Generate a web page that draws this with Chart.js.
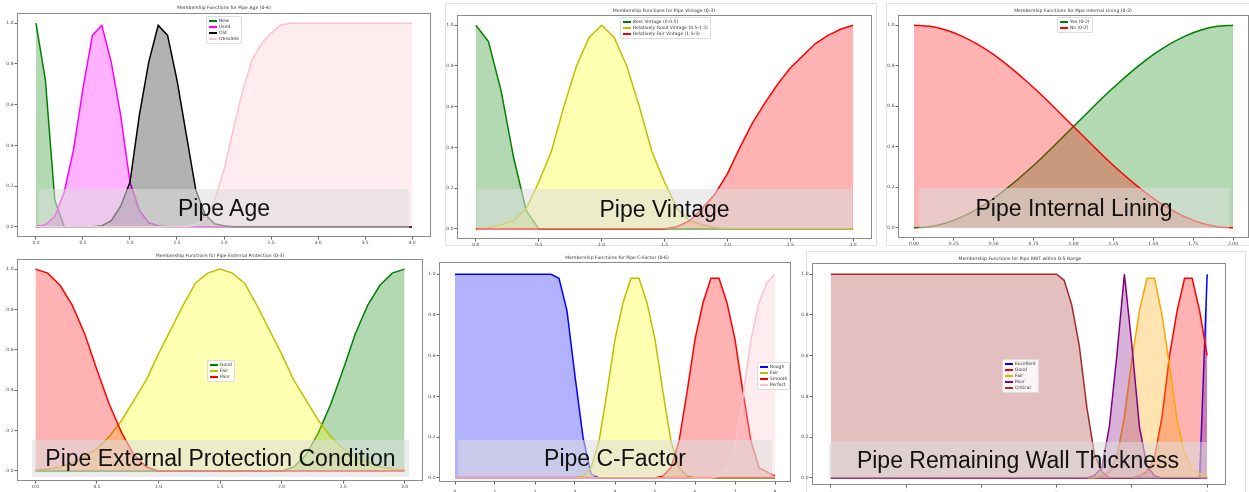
<!DOCTYPE html>
<html>
<head>
<meta charset="utf-8">
<script src="https://cdn.jsdelivr.net/npm/chart.js@4.4.0/dist/chart.umd.min.js"></script>
<style>
body { margin: 0; width: 1249px; height: 492px; overflow: hidden; background: #fff; position: relative; font-family: "DejaVu Sans", sans-serif; }
.t { position: absolute; font-size: 4.6px; line-height: 6px; color: #333; transform: translateX(-50%); white-space: nowrap; }
.lg { position: absolute; background: rgba(255,255,255,0.85); border: 1px solid #ddd; border-radius: 1px; padding: 1px 2px; font-size: 4.5px; line-height: 6px; color: #333; white-space: nowrap; }
.lg i { display: inline-block; width: 8px; height: 1.5px; vertical-align: middle; margin-right: 2px; }
.ov { position: absolute; background: rgba(220,220,220,0.55); display: flex; align-items: center; justify-content: center; font: 23px "Liberation Sans", Arial, sans-serif; color: #111; white-space: nowrap; }
.fr { position: absolute; border: 1px solid #e2e2e2; box-sizing: border-box; }
</style>
</head>
<body>
<div class="fr" style="left:445px;top:3px;width:432px;height:243px"></div>
<div class="fr" style="left:886px;top:3px;width:370px;height:243px"></div>
<div class="fr" style="left:806px;top:251px;width:440px;height:250px"></div>
<script>
// tick labels
const yTicks = [0, 0.2, 0.4, 0.6, 0.8, 1.0];
const ageTicks = [0, 0.5, 1, 1.5, 2, 2.5, 3, 3.5, 4];
const vintTicks = [0, 0.5, 1, 1.5, 2, 2.5, 3];
const lineTicks = [0, 0.25, 0.5, 0.75, 1, 1.25, 1.5, 1.75, 2];
const extTicks = [0, 0.5, 1, 1.5, 2, 2.5, 3];
const cfTicks = [0, 1, 2, 3, 4, 5, 6, 7, 8];
const rwtTicks = [0, 1, 2, 3, 4, 5];

// Pipe Age
const ageX = [0,0.1,0.2,0.3,0.4,0.5,0.6,0.7,0.8,0.9,1,1.1,1.2,1.3,1.4,1.5,1.6,1.7,1.8,1.9,2,2.1,2.2,2.3,2.4,2.5,2.6,2.7,2.8,2.9,3,3.1,3.2,3.3,3.4,3.5,3.6,3.7,3.8,3.9,4];
const ageNew = [1,0.72,0.13,0,0,0,0,0,0,0, 0,0,0,0,0,0,0,0,0,0, 0,0,0,0,0,0,0,0,0,0, 0,0,0,0,0,0,0,0,0,0, 0];
const ageUsed = [0,0.01,0.05,0.17,0.38,0.68,0.94,0.99,0.81,0.55, 0.22,0.08,0.02,0.005,0,0,0,0,0,0, 0,0,0,0,0,0,0,0,0,0, 0,0,0,0,0,0,0,0,0,0, 0];
const ageOld = [0,0,0,0,0,0,0,0.005,0.03,0.1, 0.22,0.55,0.81,0.99,0.94,0.72,0.45,0.18,0.06,0.015, 0.005,0,0,0,0,0,0,0,0,0, 0,0,0,0,0,0,0,0,0,0, 0];
const ageObsolete = [0,0,0,0,0,0,0,0,0,0, 0,0,0,0,0,0,0,0.01,0.04,0.13, 0.28,0.48,0.67,0.82,0.9,0.95,0.99,1,1,1, 1,1,1,1,1,1,1,1,1,1, 1];

// Pipe Vintage
const vintX = [0,0.1,0.2,0.3,0.4,0.5,0.6,0.7,0.8,0.9,1,1.1,1.2,1.3,1.4,1.5,1.6,1.7,1.8,1.9,2,2.1,2.2,2.3,2.4,2.5,2.6,2.7,2.8,2.9,3];
const vintBest = [1,0.92,0.68,0.35,0.09,0,0,0,0,0, 0,0,0,0,0,0,0,0,0,0, 0,0,0,0,0,0,0,0,0,0, 0];
const vintGood = [0,0.005,0.02,0.04,0.1,0.23,0.38,0.6,0.8,0.94, 1,0.94,0.8,0.6,0.38,0.23,0.1,0.04,0.02,0.005, 0,0,0,0,0,0,0,0,0,0, 0];
const vintFair = [0,0,0,0,0,0,0,0,0,0, 0,0,0,0,0,0,0.01,0.04,0.1,0.17, 0.27,0.4,0.52,0.62,0.71,0.79,0.85,0.91,0.95,0.98, 1];

// Pipe Internal Lining
const lineX = [0,0.1,0.2,0.3,0.4,0.5,0.6,0.7,0.8,0.9,1,1.1,1.2,1.3,1.4,1.5,1.6,1.7,1.8,1.9,2];
const lineYes = [0,0.006,0.024,0.054,0.095,0.146,0.206,0.273,0.345,0.422,0.5,0.578,0.655,0.727,0.794,0.854,0.905,0.946,0.976,0.994,1];
const lineNo = [1,0.994,0.976,0.946,0.905,0.854,0.794,0.727,0.655,0.578,0.5,0.422,0.345,0.273,0.206,0.146,0.095,0.054,0.024,0.006,0];

// Pipe External Protection
const extX = [0,0.1,0.2,0.3,0.4,0.5,0.6,0.7,0.8,0.9,1,1.1,1.2,1.3,1.4,1.5,1.6,1.7,1.8,1.9,2,2.1,2.2,2.3,2.4,2.5,2.6,2.7,2.8,2.9,3];
const extGood = [0,0,0,0,0,0,0,0,0,0, 0,0,0,0,0,0,0,0,0,0, 0,0.02,0.08,0.19,0.33,0.5,0.68,0.82,0.92,0.98, 1];
const extFair = [0.005,0.01,0.02,0.04,0.07,0.11,0.17,0.25,0.35,0.45, 0.58,0.7,0.82,0.93,0.98,1,0.98,0.93,0.82,0.7, 0.58,0.45,0.35,0.25,0.17,0.11,0.07,0.04,0.02,0.01, 0.005];
const extPoor = [1,0.98,0.92,0.82,0.68,0.5,0.33,0.19,0.08,0.02, 0,0,0,0,0,0,0,0,0,0, 0,0,0,0,0,0,0,0,0,0, 0];

// Pipe C-Factor
const cfX = [0,0.2,0.4,0.6,0.8,1,1.2,1.4,1.6,1.8,2,2.2,2.4,2.6,2.8,3,3.2,3.4,3.6,3.8,4,4.2,4.4,4.6,4.8,5,5.2,5.4,5.6,5.8,6,6.2,6.4,6.6,6.8,7,7.2,7.4,7.6,7.8,8];
const cfRough = [1,1,1,1,1,1,1,1,1,1, 1,1,1,0.98,0.82,0.5,0.2,0.02,0,0, 0,0,0,0,0,0,0,0,0,0, 0,0,0,0,0,0,0,0,0,0, 0];
const cfFair = [0,0,0,0,0,0,0,0,0,0, 0,0,0,0,0,0,0.01,0.05,0.18,0.42, 0.68,0.86,0.98,0.98,0.86,0.68,0.42,0.18,0.05,0.01, 0,0,0,0,0,0,0,0,0,0, 0];
const cfSmooth = [0,0,0,0,0,0,0,0,0,0, 0,0,0,0,0,0,0,0,0,0, 0,0,0,0,0,0,0.01,0.05,0.18,0.42, 0.68,0.86,0.98,0.98,0.86,0.68,0.42,0.18,0.05,0.03, 0.01];
const cfPerfect = [0,0,0,0,0,0,0,0,0,0, 0,0,0,0,0,0,0,0,0,0, 0,0,0,0,0,0,0,0,0,0, 0,0,0,0.01,0.05,0.15,0.4,0.68,0.86,0.96, 1];

// Pipe RWT
const rwtX = [0,0.1,0.2,0.3,0.4,0.5,0.6,0.7,0.8,0.9,1,1.1,1.2,1.3,1.4,1.5,1.6,1.7,1.8,1.9,2,2.1,2.2,2.3,2.4,2.5,2.6,2.7,2.8,2.9,3,3.1,3.2,3.3,3.4,3.5,3.6,3.7,3.8,3.9,4,4.1,4.2,4.3,4.4,4.5,4.6,4.7,4.8,4.9,5];
const rwtExcellent = [0,0,0,0,0,0,0,0,0,0, 0,0,0,0,0,0,0,0,0,0, 0,0,0,0,0,0,0,0,0,0, 0,0,0,0,0,0,0,0,0,0, 0,0,0,0,0,0,0,0,0,0, 1];
const rwtGood = [0,0,0,0,0,0,0,0,0,0, 0,0,0,0,0,0,0,0,0,0, 0,0,0,0,0,0,0,0,0,0, 0,0,0,0,0,0,0,0,0,0, 0,0.01,0.03,0.1,0.3,0.6,0.82,0.98,0.98,0.82, 0.6];
const rwtFair = [0,0,0,0,0,0,0,0,0,0, 0,0,0,0,0,0,0,0,0,0, 0,0,0,0,0,0,0,0,0,0, 0,0,0,0,0,0,0.01,0.03,0.1,0.3, 0.58,0.82,0.98,0.98,0.8,0.55,0.28,0.12,0.04,0.02, 0.01];
const rwtPoor = [0,0,0,0,0,0,0,0,0,0, 0,0,0,0,0,0,0,0,0,0, 0,0,0,0,0,0,0,0,0,0, 0,0,0,0,0,0.01,0.05,0.25,0.6,1, 0.65,0.25,0.06,0.01,0,0,0,0,0,0, 0];
const rwtCritical = [1,1,1,1,1,1,1,1,1,1, 1,1,1,1,1,1,1,1,1,1, 1,1,1,1,1,1,1,1,1,1, 1,0.97,0.85,0.65,0.35,0.12,0.03,0,0,0, 0,0,0,0,0,0,0,0,0,0, 0];

Chart.defaults.font.family = '"DejaVu Sans", sans-serif';

function fade(hex) {
    const n = parseInt(hex.slice(1), 16);
    return 'rgba(' + (n >> 16) + ',' + ((n >> 8) & 255) + ',' + (n & 255) + ',0.3)';
}

// top and right spines
const frame = {
    id: 'frame',
    afterDraw(chart) {
        const a = chart.chartArea, ctx = chart.ctx;
        ctx.save();
        ctx.strokeStyle = '#8a8a8a';
        ctx.lineWidth = 1;
        ctx.strokeRect(Math.round(a.left) + 0.5, Math.round(a.top) + 0.5, Math.round(a.width) - 1, Math.round(a.height) - 1);
        ctx.restore();
    }
};

const panels = [
    { L: 17, T: 13, R: 431, B: 237, xMin: -0.202, xMax: 4.202, yMin: -0.05, yMax: 1.05, x: ageX, xTicks: ageTicks, digits: 1, xPad: 1,
      series: [['New', ageNew, '#008000', '#008000'], ['Used', ageUsed, '#ff00ff', '#ff00ff'], ['Old', ageOld, '#000000', '#000000'], ['Obsolete', ageObsolete, '#ffc0cb', '#ffc0cb']],
      title: 'Membership Functions for Pipe Age (0-4)', tx: 224, ty: 8, lx: 206, ly: 16,
      label: 'Pipe Age', box: [39, 189, 409, 228] },
    { L: 457, T: 15, R: 872, B: 239, xMin: -0.15, xMax: 3.15, yMin: -0.05, yMax: 1.05, x: vintX, xTicks: vintTicks, digits: 1, xPad: 1,
      series: [['Best Vintage (0-0.5)', vintBest, '#008000', '#008000'], ['Relatively Good Vintage (0.5-1.5)', vintGood, '#bfbf00', '#ffff00'], ['Relatively Fair Vintage (1.5-3)', vintFair, '#ff0000', '#ff0000']],
      title: 'Membership Functions for Pipe Vintage (0-3)', tx: 664, ty: 11, lx: 620, ly: 17,
      label: 'Pipe Vintage', box: [477, 189, 852, 229] },
    { L: 898, T: 15, R: 1249, B: 238, xMin: -0.1, xMax: 2.1, yMin: -0.05, yMax: 1.05, x: lineX, xTicks: lineTicks, digits: 2, xPad: 1, smooth: true,
      series: [['Yes (0-2)', lineYes, '#008000', '#008000'], ['No (0-2)', lineNo, '#ff0000', '#ff0000']],
      title: 'Membership Functions for Pipe Internal Lining (0-2)', tx: 1073, ty: 11, lx: 1057, ly: 17,
      label: 'Pipe Internal Lining', box: [919, 188, 1229, 228] },
    { L: 17, T: 259, R: 423, B: 481, xMin: -0.15, xMax: 3.15, yMin: -0.05, yMax: 1.05, x: extX, xTicks: extTicks, digits: 1, xPad: 1,
      series: [['Good', extGood, '#008000', '#008000'], ['Fair', extFair, '#bfbf00', '#ffff00'], ['Poor', extPoor, '#ff0000', '#ff0000']],
      title: 'Membership Functions for Pipe External Protection (0-3)', tx: 220, ty: 256, lx: 207, ly: 360,
      label: 'Pipe External Protection Condition', box: [32, 440, 409, 477] },
    { L: 439, T: 262, R: 791, B: 482, xMin: -0.4, xMax: 8.4, yMin: -0.02, yMax: 1.06, x: cfX, xTicks: cfTicks, digits: 0, xPad: 5,
      series: [['Rough', cfRough, '#0000ff', '#0000ff'], ['Fair', cfFair, '#bfbf00', '#ffff00'], ['Smooth', cfSmooth, '#ff0000', '#ff0000'], ['Perfect', cfPerfect, '#ffc0cb', '#ffc0cb']],
      title: 'Membership Functions for Pipe C-Factor (0-6)', tx: 617, ty: 258, lx: 757, ly: 362,
      label: 'Pipe C-Factor', box: [458, 440, 772, 476] },
    { L: 812, T: 263, R: 1226, B: 485, xMin: -0.25, xMax: 5.25, yMin: -0.035, yMax: 1.055, x: rwtX, xTicks: rwtTicks, digits: 0, xPad: 4,
      series: [['Excellent', rwtExcellent, '#0000ff', '#0000ff'], ['Good', rwtGood, '#ff0000', '#ff0000'], ['Fair', rwtFair, '#ffa500', '#ffa500'], ['Poor', rwtPoor, '#800080', '#800080'], ['Critical', rwtCritical, '#a52a2a', '#a52a2a']],
      title: 'Membership Functions for Pipe RWT within 0-5 Range', tx: 1020, ty: 259, lx: 1002, ly: 359,
      label: 'Pipe Remaining Wall Thickness', box: [829, 442, 1207, 478] }
];

function drawPanel(p) {
    const yW = 24, padTop = 6, padRight = 6, xH = 16;
    const w = p.R - p.L + yW + padRight, h = p.B - p.T + padTop + xH;
    const cv = document.createElement('canvas');
    cv.width = w;
    cv.height = h;
    cv.style.cssText = 'position:absolute;left:' + (p.L - yW) + 'px;top:' + (p.T - padTop) + 'px;width:' + w + 'px;height:' + h + 'px';
    document.body.appendChild(cv);

    const n = p.series.length;
    const tickFont = { size: 4.5 };
    new Chart(cv, {
        type: 'line',
        data: {
            datasets: p.series.map(function (s, i) {
                return {
                    label: s[0],
                    data: p.x.map(function (v, j) { return { x: v, y: s[1][j] }; }),
                    borderColor: s[2],
                    backgroundColor: fade(s[3]),
                    fill: 'origin',
                    borderWidth: 1.5,
                    pointRadius: 0,
                    tension: 0,
                    cubicInterpolationMode: p.smooth ? 'monotone' : 'default',
                    order: n - i
                };
            })
        },
        options: {
            responsive: false,
            animation: false,
            devicePixelRatio: 1,
            layout: { padding: { top: padTop, right: padRight, left: 0, bottom: 0 } },
            plugins: { legend: { display: false }, tooltip: { enabled: false } },
            scales: {
                x: {
                    type: 'linear', min: p.xMin, max: p.xMax,
                    afterBuildTicks: function (s) { s.ticks = p.xTicks.map(function (v) { return { value: v }; }); },
                    afterFit: function (s) { s.height = xH; },
                    ticks: { font: tickFont, color: '#444', padding: p.xPad, maxRotation: 0, autoSkip: false,
                             callback: function (v) { return Number(v).toFixed(p.digits); } },
                    grid: { drawOnChartArea: false, tickLength: 2.5, color: '#666' },
                    border: { display: false }
                },
                y: {
                    min: p.yMin, max: p.yMax,
                    afterBuildTicks: function (s) { s.ticks = yTicks.map(function (v) { return { value: v }; }); },
                    afterFit: function (s) { s.width = yW; },
                    ticks: { font: tickFont, color: '#444', padding: 1,
                             callback: function (v) { return Number(v).toFixed(1); } },
                    grid: { drawOnChartArea: false, tickLength: 2.5, color: '#666' },
                    border: { display: false }
                }
            }
        },
        plugins: [frame]
    });

    const t = document.createElement('div');
    t.className = 't';
    t.style.left = p.tx + 'px';
    t.style.top = (p.ty - 3) + 'px';
    t.textContent = p.title;
    document.body.appendChild(t);

    const lg = document.createElement('div');
    lg.className = 'lg';
    lg.style.left = p.lx + 'px';
    lg.style.top = p.ly + 'px';
    lg.innerHTML = p.series.map(function (s) {
        return '<div><i style="background:' + s[2] + '"></i>' + s[0] + '</div>';
    }).join('');
    document.body.appendChild(lg);

    const ov = document.createElement('div');
    ov.className = 'ov';
    ov.style.left = p.box[0] + 'px';
    ov.style.top = p.box[1] + 'px';
    ov.style.width = (p.box[2] - p.box[0]) + 'px';
    ov.style.height = (p.box[3] - p.box[1]) + 'px';
    ov.textContent = p.label;
    document.body.appendChild(ov);
}

panels.forEach(drawPanel);
</script>
</body>
</html>
